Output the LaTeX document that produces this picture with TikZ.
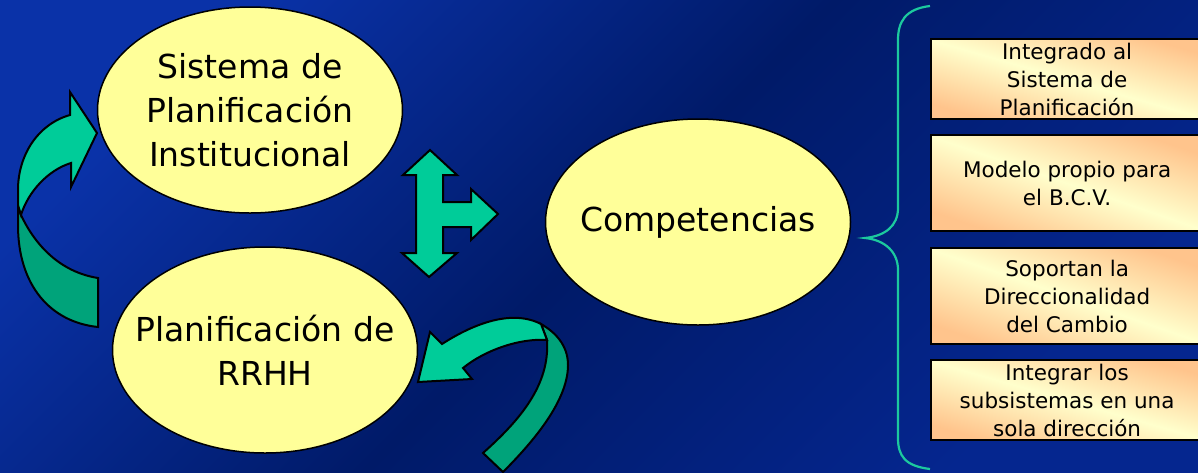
\documentclass[tikz,border=0pt]{standalone}
\usepackage{fontspec}
\setmainfont{DejaVu Sans}
\usetikzlibrary{shapes.geometric}
\definecolor{bgtl}{HTML}{0A32A8}
\definecolor{bgmid}{HTML}{001A68}
\definecolor{bgbr}{HTML}{05268F}
\definecolor{ellfill}{HTML}{FFFF99}
\definecolor{arrlight}{HTML}{00CC99}
\definecolor{arrdark}{HTML}{00A37A}
\definecolor{bracecol}{HTML}{1CC99E}
\definecolor{peach}{HTML}{FFC48C}
\definecolor{lightyel}{HTML}{FFFFCC}
\begin{document}
\begin{tikzpicture}[x=1pt,y=-1pt,
  ell/.style={ellipse, draw=black, line width=1.5pt, fill=ellfill,
    minimum width=305pt, minimum height=206pt, inner sep=0pt},
  etext/.style={align=center, font=\fontsize{33}{44}\selectfont, text=black, inner sep=0pt},
  boxshape/.style={rectangle, draw=black, line width=2.2pt, anchor=north west,
    minimum width=272pt, inner sep=0pt,
    top color=peach, bottom color=peach, middle color=lightyel},
  btext/.style={align=center, font=\fontsize{21.5}{28}\selectfont, text=black, inner sep=0pt},
  arrlightst/.style={fill=arrlight, draw=black, line width=2pt, line join=miter},
  arrdarkst/.style={fill=arrdark, draw=black, line width=2pt, line join=miter},
  bracest/.style={draw=bracecol, line width=2.2pt}]
\useasboundingbox (0,0) rectangle (1198,472);
\clip (0,0) rectangle (1198,472);
\shade[top color=bgtl, bottom color=bgbr, middle color=bgmid, shading angle=45] (0,0) rectangle (1198,472);

% ellipses
\node[ell] (e1) at (250,110) {};
\node[etext] (t1) at (e1.center) {Sistema de\\Planificación\\Institucional};
\node[ell] (e2) at (265,350) {};
\node[etext] (t2) at (e2.center) {Planificación de\\RRHH};
\node[ell] (e3) at (698,222) {};
\node[etext] (t3) at (e3.center) {Competencias};

% left curved arrow
\draw[arrdarkst] (21,215) .. controls (35,245) and (60,272) .. (98,278) -- (98,327)
  .. controls (50,322) and (18,285) .. (18,225) -- (18,205) -- cycle;
\draw[arrlightst] (70,92) -- (97,133) -- (71,187) -- (71,163)
  .. controls (48,170) and (28,192) .. (21,215) -- (18,205) -- (18,190)
  .. controls (18,155) and (38,124) .. (70,115) -- cycle;

% bottom curved arrow
\draw[arrdarkst] (541,324) .. controls (555,332) and (568,345) .. (568,365)
  .. controls (568,400) and (535,440) .. (503,472) -- (483,453)
  .. controls (520,420) and (550,385) .. (547,340) -- cycle;
\draw[arrlightst] (418,382) -- (430,332) -- (442,344)
  .. controls (470,326) and (510,308) .. (541,324) -- (547,340)
  .. controls (520,338) and (485,350) .. (463,368) -- (472,379) -- cycle;

% T-shaped arrow
\draw[arrlightst] (430,150) -- (457,175) -- (443,175) -- (443,202) -- (471,202) -- (471,189)
  -- (498,214) -- (471,240) -- (471,227) -- (443,227) -- (443,253) -- (457,253)
  -- (429,277) -- (402,253) -- (416,253) -- (416,175) -- (403,175) -- cycle;

% brace
\draw[bracest] (930,6) .. controls (905,9) and (898,22) .. (898,40) -- (898,208)
  .. controls (898,226) and (885,236) .. (865,238)
  .. controls (885,240) and (898,252) .. (898,270) -- (898,438)
  .. controls (898,456) and (905,466) .. (930,469);

% boxes
\node[boxshape, minimum height=80pt, shading angle=-16] (b1) at (930,38) {};
\node[btext] (bt1) at (b1.center) {Integrado al\\Sistema de\\Planificación};
\node[boxshape, minimum height=96pt, shading angle=-19] (b2) at (930,134) {};
\node[btext] (bt2) at (b2.center) {Modelo propio para\\el B.C.V.};
\node[boxshape, minimum height=96pt, shading angle=-19] (b3) at (930,247) {};
\node[btext] (bt3) at (b3.center) {Soportan la\\Direccionalidad\\del Cambio};
\node[boxshape, minimum height=80pt, shading angle=-16] (b4) at (930,359) {};
\node[btext] (bt4) at (b4.center) {Integrar los\\subsistemas en una\\sola dirección};
\end{tikzpicture}
\end{document}
